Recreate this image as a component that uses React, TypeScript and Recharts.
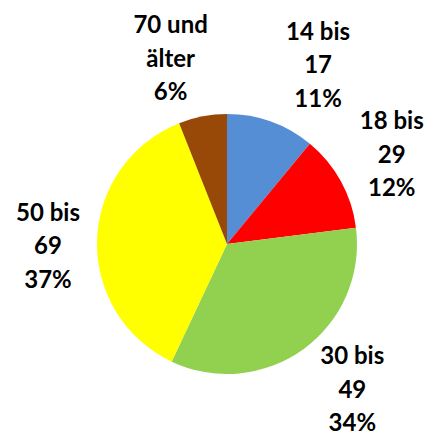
import React from 'react';
import { PieChart, Pie, Cell } from 'recharts';

const ageGroups = ['14 bis 17', '18 bis 29', '30 bis 49', '50 bis 69', '70 und älter'];
const shares = [11, 12, 34, 37, 6];
const sliceColors = ['#558ED5', '#FF0000', '#92D050', '#FFFF00', '#984807'];

const data = ageGroups.map((name, i) => ({ name, value: shares[i] }));

const RAD = Math.PI / 180;
// best-fit style label placement: angle nudge (deg) and distance from centre
const labelTurn = [7, 0, -5, -2, -6];
const labelDist = [202, 188, 191, 179, 195];

const renderLabel = (props: any) => {
  const { cx, cy, midAngle, index } = props;
  const a = midAngle - labelTurn[index];
  const r = labelDist[index];
  const x = cx + r * Math.cos(-a * RAD);
  const y = cy + r * Math.sin(-a * RAD);
  const parts = ageGroups[index].split(' ');
  const lines = [parts.slice(0, parts.length - 1).join(' '), parts[parts.length - 1], `${shares[index]}%`];
  return (
    <text
      x={x}
      y={y}
      textAnchor="middle"
      fill="#000"
      fontFamily="Lato, sans-serif"
      fontWeight="bold"
      fontSize={24}
    >
      {lines.map((l, i) => (
        <tspan key={i} x={x} y={y + (i - 1) * 33.5} dominantBaseline="central">
          {l}
        </tspan>
      ))}
    </text>
  );
};

export default function App() {
  return (
    <div style={{ position: 'absolute', left: 0, top: 0, width: 429, height: 437 }}>
      <PieChart width={429} height={437} margin={{ top: 0, right: 0, bottom: 0, left: 0 }}>
        <Pie
          data={data}
          dataKey="value"
          nameKey="name"
          cx={227}
          cy={244}
          outerRadius={130}
          startAngle={90}
          endAngle={-270}
          stroke="none"
          label={renderLabel}
          labelLine={false}
          isAnimationActive={false}
        >
          {data.map((d, i) => (
            <Cell key={d.name} fill={sliceColors[i]} />
          ))}
        </Pie>
      </PieChart>
    </div>
  );
}
